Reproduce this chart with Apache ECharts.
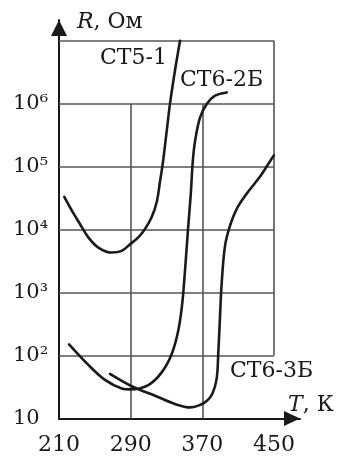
<!DOCTYPE html>
<html>
<head>
<meta charset="utf-8">
<script src="https://cdn.jsdelivr.net/npm/echarts@6/dist/echarts.min.js"></script>
<style>
html,body{margin:0;padding:0;background:#fff;}
#chart{width:338px;height:463px;}
</style>
</head>
<body>
<div id="chart"></div>
<script>
// Tick values and labels
const xTicks = [210, 290, 370, 450];
const yTicks = [10, 100, 1000, 10000, 100000, 1000000];
const yTickLabels = ['10', '10²', '10³', '10⁴', '10⁵', '10⁶'];
const hGridValues = [100, 1000, 10000, 100000, 1000000, 10000000];
const vGridInner = [290, 370];

// Curve СТ5-1
const ct51T = [215.9, 224.2, 233.4, 242.7, 253.9, 268.8, 280.0, 289.3, 298.5, 306.0, 313.5, 319.1, 322.7, 326.1, 330.2, 333.9, 339.5, 345.1];
const ct51R = [33000, 20200, 12300, 7520, 5190, 4320, 4590, 5860, 7520, 10240, 15800, 27500, 57500, 120000, 366000, 1000000, 3400000, 10000000];

// Curve СТ6-2Б
const ct62T = [221.2, 242.7, 261.3, 280.0, 289.3, 309.7, 324.6, 335.8, 343.2, 347.6, 351.3, 354.0, 357.0, 359.3, 361.8, 367.4, 374.9, 384.1, 397.2];
const ct62R = [150, 71, 41, 30, 29, 34, 54, 106, 252, 678, 2980, 10200, 35200, 120000, 252000, 600000, 986000, 1340000, 1510000];

// Curve СТ6-3Б
const ct63T = [266.9, 291.2, 317.2, 339.5, 356.2, 365.5, 374.9, 381.3, 386.0, 387.8, 389.7, 391.6, 395.3, 400.9, 408.4, 419.5, 434.2, 445.4, 449.9];
const ct63R = [51, 32.5, 23, 17, 15, 16, 19, 25, 43, 110, 414, 1420, 5530, 11600, 21400, 37300, 69000, 121000, 151000];

const curveNames = ['СТ5-1', 'СТ6-2Б', 'СТ6-3Б'];

const FONT = 'DejaVu Serif';
const INK = '#1a1a1a';
const GRID = '#555';

function pairs(xs, ys) { return xs.map((x, i) => [x, ys[i]]); }

const gridLines = [];
hGridValues.forEach(v => gridLines.push([{coord: [xTicks[0], v]}, {coord: [xTicks[xTicks.length - 1], v]}]));
vGridInner.forEach(v => gridLines.push([{coord: [v, yTicks[0]]}, {coord: [v, 1000000]}]));
gridLines.push([{coord: [450, 100]}, {coord: [450, 10000000]}]);

function curve(name, xs, ys) {
  return {
    name: name, type: 'line', data: pairs(xs, ys), showSymbol: false,
    smooth: 0.35, z: 5,
    lineStyle: {color: INK, width: 2.6, cap: 'round', join: 'round'}, silent: true
  };
}

const chart = echarts.init(document.getElementById('chart'), null, {renderer: 'canvas'});
chart.setOption({
  animation: false,
  backgroundColor: '#fff',
  grid: {left: 59, right: 38, top: 20, bottom: 44.5, containLabel: false},
  xAxis: {
    type: 'value', min: 210, max: 479,
    axisLine: {show: true, lineStyle: {color: INK, width: 2}, symbol: ['none', 'triangle'], symbolSize: [15, 16], symbolOffset: [0, -8]},
    axisTick: {show: false},
    splitLine: {show: false},
    axisLabel: {customValues: xTicks, margin: 16, fontFamily: FONT, fontSize: 22, color: INK}
  },
  yAxis: {
    type: 'log', logBase: 10, min: 10, max: 2.134e7, interval: 1,
    axisLine: {show: true, lineStyle: {color: INK, width: 2}, symbol: ['none', 'triangle'], symbolSize: [16, 16], symbolOffset: [0, -8]},
    axisTick: {show: false},
    splitLine: {show: false},
    axisLabel: {
      margin: 46, align: 'left', fontFamily: FONT, fontSize: 21, color: INK,
      formatter: function (v) {
        for (let i = 0; i < yTicks.length; i++) {
          if (Math.abs(Math.log10(v) - Math.log10(yTicks[i])) < 1e-6) return yTickLabels[i];
        }
        return '';
      }
    }
  },
  graphic: [
    {type: 'text', x: 77, y: 22, style: {text: '{i|R}, Ом', rich: {i: {fontStyle: 'italic', fontFamily: FONT, fontSize: 22, fill: INK}}, fontFamily: FONT, fontSize: 22, fill: INK, verticalAlign: 'middle'}},
    {type: 'text', x: 288, y: 405, style: {text: '{i|T}, К', rich: {i: {fontStyle: 'italic', fontFamily: FONT, fontSize: 22, fill: INK}}, fontFamily: FONT, fontSize: 22, fill: INK, verticalAlign: 'middle'}},
    {type: 'text', x: 100, y: 58, style: {text: curveNames[0], fontFamily: FONT, fontSize: 22, fill: INK, verticalAlign: 'middle'}},
    {type: 'text', x: 180, y: 80, style: {text: curveNames[1], fontFamily: FONT, fontSize: 22, fill: INK, verticalAlign: 'middle'}},
    {type: 'text', x: 230, y: 371, style: {text: curveNames[2], fontFamily: FONT, fontSize: 22, fill: INK, verticalAlign: 'middle'}}
  ],
  series: [
    {
      type: 'line', data: [], silent: true, z: 1,
      markLine: {silent: true, symbol: ['none', 'none'], label: {show: false}, animation: false,
        lineStyle: {color: GRID, width: 1.6, type: 'solid'}, emphasis: {disabled: true}, data: gridLines}
    },
    curve(curveNames[0], ct51T, ct51R),
    curve(curveNames[1], ct62T, ct62R),
    curve(curveNames[2], ct63T, ct63R)
  ]
});
</script>
</body>
</html>
